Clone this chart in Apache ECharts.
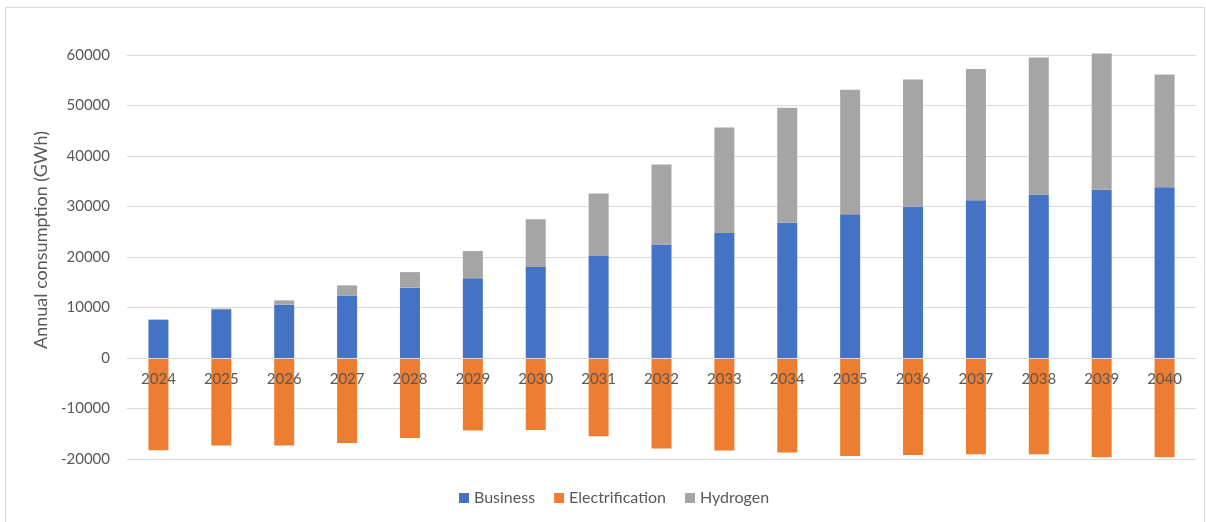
<!DOCTYPE html>
<html>
<head>
<meta charset="utf-8">
<script src="https://cdn.jsdelivr.net/npm/echarts@6/dist/echarts.min.js"></script>
<style>
  html, body { margin: 0; padding: 0; background: #fff; }
  #chart { width: 1206px; height: 522px; }
</style>
</head>
<body>
<div id="chart"></div>
<script>
const years = ["2024", "2025", "2026", "2027", "2028", "2029", "2030", "2031", "2032",
  "2033", "2034", "2035", "2036", "2037", "2038", "2039", "2040"];
const business = [7600, 9630, 10560, 12400, 13930, 15770, 18000, 20180, 22490,
  24730, 26780, 28490, 29950, 31260, 32380, 33310, 33830];
const electrification = [-18260, -17330, -17330, -16810, -15830, -14370, -14240, -15490, -17930,
  -18330, -18720, -19390, -19190, -19050, -19050, -19640, -19640];
const hydrogen = [0, 150, 850, 1980, 3080, 5400, 9500, 12400, 15830,
  20910, 22750, 24610, 25180, 25990, 27110, 26970, 22290];
const yTicks = { min: -20000, max: 60000, step: 10000 };

const font = "Lato";
const textColor = "#595959";

const chart = echarts.init(document.getElementById("chart"));

const makeSeries = (name, data, color) => ({
  name,
  type: "bar",
  stack: "total",
  data,
  barWidth: 20,
  clip: false,
  itemStyle: { color },
});

// grid spans 55..459 px for -20000..60000, so zero sits ~101 px above the bottom
const gridTop = 55;
const gridBottom = 63;
const plotH = 522 - gridTop - gridBottom;
const zeroOffset = plotH * (0 - yTicks.min) / (yTicks.max - yTicks.min);

chart.setOption({
  animation: false,
  textStyle: { fontFamily: font },
  graphic: [{
    type: "rect",
    shape: { x: 5.5, y: 7.5, width: 1199, height: 530 },
    style: { fill: "none", stroke: "#d9d9d9", lineWidth: 1 },
    silent: true,
  }],
  grid: { left: 127, right: 10, top: gridTop, bottom: gridBottom },
  legend: {
    bottom: 11,
    left: 454,
    itemWidth: 10,
    itemHeight: 10,
    itemGap: 19,
    icon: "rect",
    textStyle: { color: textColor, fontSize: 16, fontFamily: font },
    data: ["Business", "Electrification", "Hydrogen"],
  },
  xAxis: {
    type: "category",
    data: years,
    z: 10,
    offset: -zeroOffset,
    axisLine: { onZero: false, lineStyle: { color: "#d9d9d9", width: 1 } },
    axisTick: { show: false },
    axisLabel: { color: textColor, fontSize: 15, margin: 14 },
  },
  yAxis: {
    type: "value",
    min: yTicks.min,
    max: yTicks.max,
    interval: yTicks.step,
    name: "Annual consumption (GWh)",
    nameLocation: "middle",
    nameGap: 74,
    nameTextStyle: { color: textColor, fontSize: 18, padding: [0, 0, 0, 34] },
    axisLine: { show: false },
    axisTick: { show: false },
    axisLabel: { color: textColor, fontSize: 15, margin: 17, formatter: (v) => String(v) },
    splitLine: { lineStyle: { color: "#d9d9d9", width: 1 } },
  },
  series: [
    makeSeries("Business", business, "#4472C4"),
    makeSeries("Electrification", electrification, "#ED7D31"),
    makeSeries("Hydrogen", hydrogen, "#A5A5A5"),
  ],
});
</script>
</body>
</html>
